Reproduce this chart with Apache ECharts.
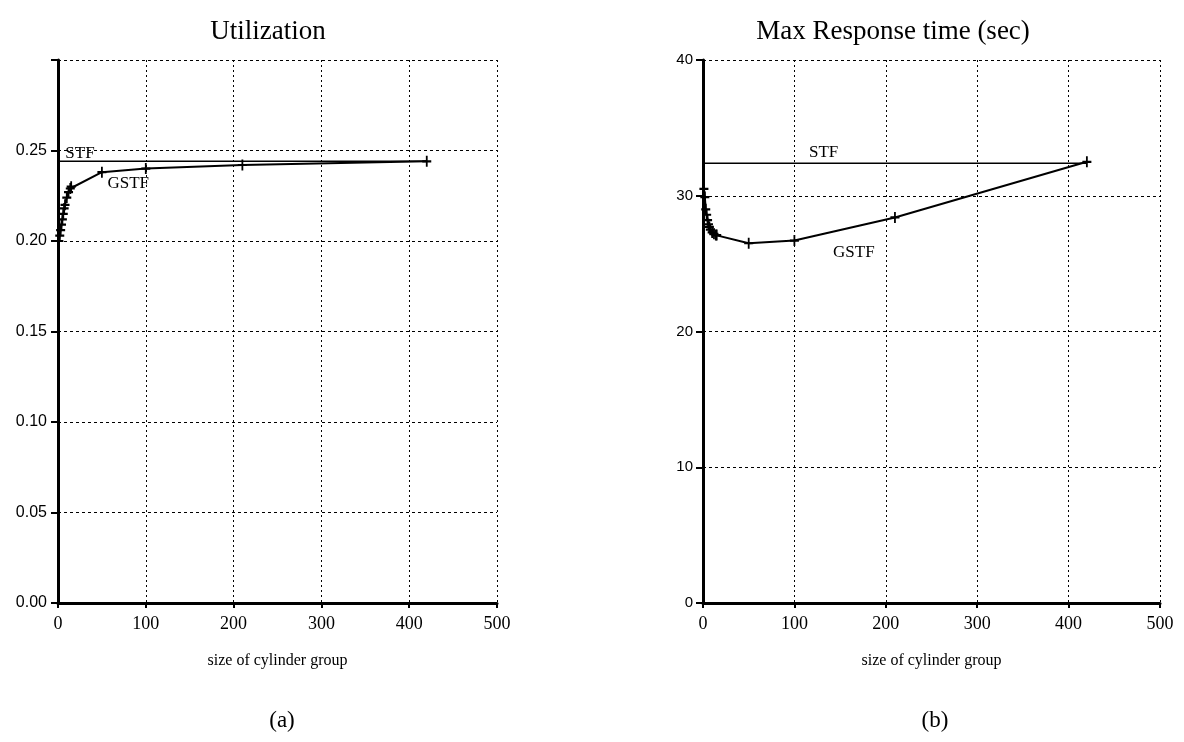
<!DOCTYPE html>
<html>
<head>
<meta charset="utf-8">
<script src="https://cdn.jsdelivr.net/npm/echarts@6/dist/echarts.min.js"></script>
<style>
html, body { margin: 0; padding: 0; background: #fff; }
#chart { width: 1184px; height: 742px; }
</style>
</head>
<body>
<div id="chart"></div>
<script>
// cylinder group sizes (x values shared by both panels)
const groupSizes = [1, 2, 3, 4, 5, 6, 7, 8, 10, 12, 14, 15, 50, 100, 210, 420];
// (a) utilization
const utilGSTF = [0.200, 0.203, 0.206, 0.209, 0.212, 0.215, 0.218, 0.220, 0.224, 0.227, 0.229, 0.230, 0.238, 0.240, 0.242, 0.244];
const utilSTF = [0.244, 0.244];
// (b) max response time
const respGSTF = [30.5, 29.9, 29.0, 28.6, 28.2, 27.9, 27.7, 27.5, 27.3, 27.2, 27.1, 27.1, 26.5, 26.7, 28.4, 32.5];
const respSTF = [32.4, 32.4];
const stfRange = [0, 420];

const serif = '"Liberation Serif", "DejaVu Serif", serif';
const sans = '"Liberation Sans", Arial, sans-serif';
const plus = 'path://M4,0H6V10H4ZM0,4H10V6H0Z';

const pairs = (xs, ys) => xs.map((x, i) => [x, ys[i]]);

const xAxisCfg = (gridIndex) => ({
	gridIndex,
	type: 'value',
	min: 0,
	max: 500,
	interval: 100,
	name: 'size of cylinder group',
	nameLocation: 'middle',
	nameGap: 50,
	nameTextStyle: { color: '#000', fontSize: 16, fontFamily: serif },
	axisLine: { lineStyle: { color: '#000', width: 3 } },
	axisTick: { show: true, length: 5, lineStyle: { color: '#000', width: 2 } },
	axisLabel: { color: '#000', fontSize: 18, fontFamily: serif, margin: 12 },
	splitLine: { show: true, lineStyle: { color: '#000', width: 1, type: [2, 3] } },
});

const yAxisBase = (gridIndex) => ({
	gridIndex,
	type: 'value',
	axisLine: { show: true, lineStyle: { color: '#000', width: 3 } },
	axisTick: { show: true, length: 7, lineStyle: { color: '#000', width: 2 } },
	splitLine: { show: true, lineStyle: { color: '#000', width: 1, type: [3, 3] } },
});

const gstfSeries = (xi, data) => ({
	type: 'line',
	xAxisIndex: xi,
	yAxisIndex: xi,
	data,
	symbol: plus,
	symbolSize: [9, 11],
	itemStyle: { color: '#000' },
	lineStyle: { color: '#000', width: 2 },
	silent: true,
	z: 3,
});

const stfSeries = (xi, data) => ({
	type: 'line',
	xAxisIndex: xi,
	yAxisIndex: xi,
	data,
	showSymbol: false,
	lineStyle: { color: '#000', width: 1.5 },
	silent: true,
});

const textMark = (text, coord) => ({
	coord,
	symbol: 'circle',
	symbolSize: 1,
	itemStyle: { color: 'rgba(0,0,0,0)' },
	label: { show: true, formatter: text, color: '#000', fontSize: 17, fontFamily: serif, position: 'inside' },
});

const chart = echarts.init(document.getElementById('chart'));
chart.setOption({
	animation: false,
	backgroundColor: '#fff',
	title: [
		{ text: 'Utilization', left: 263, top: 13, textAlign: 'center', textStyle: { color: '#000', fontSize: 27, fontWeight: 'normal', fontFamily: serif } },
		{ text: 'Max Response time (sec)', left: 888, top: 13, textAlign: 'center', textStyle: { color: '#000', fontSize: 27, fontWeight: 'normal', fontFamily: serif } },
		{ text: '(a)', left: 277, top: 704, textAlign: 'center', textStyle: { color: '#000', fontSize: 23, fontWeight: 'normal', fontFamily: serif } },
		{ text: '(b)', left: 930, top: 704, textAlign: 'center', textStyle: { color: '#000', fontSize: 23, fontWeight: 'normal', fontFamily: serif } },
	],
	grid: [
		{ left: 58, top: 60, width: 439, height: 543 },
		{ left: 703, top: 60, width: 457, height: 543 },
	],
	xAxis: [xAxisCfg(0), xAxisCfg(1)],
	yAxis: [
		Object.assign(yAxisBase(0), {
			min: 0, max: 0.3, interval: 0.05,
			axisLabel: { color: '#000', fontSize: 16, fontFamily: sans, margin: 11, formatter: v => v > 0.29 ? '' : v.toFixed(2) },
		}),
		Object.assign(yAxisBase(1), {
			min: 0, max: 40, interval: 10,
			axisLabel: { color: '#000', fontSize: 15, fontFamily: sans, margin: 10 },
		}),
	],
	series: [
		Object.assign(stfSeries(0, pairs(stfRange, utilSTF)), {
			markPoint: { silent: true, data: [textMark('STF', [25, 0.2485])] },
		}),
		Object.assign(gstfSeries(0, pairs(groupSizes, utilGSTF)), {
			markPoint: { silent: true, data: [textMark('GSTF', [80, 0.2316])] },
		}),
		Object.assign(stfSeries(1, pairs(stfRange, respSTF)), {
			markPoint: { silent: true, data: [textMark('STF', [132, 33.2])] },
		}),
		Object.assign(gstfSeries(1, pairs(groupSizes, respGSTF)), {
			markPoint: { silent: true, data: [textMark('GSTF', [165, 25.8])] },
		}),
	],
});
</script>
</body>
</html>
